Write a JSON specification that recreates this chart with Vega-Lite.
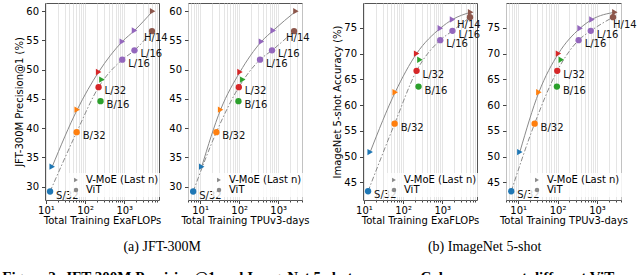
{
  "$schema": "https://vega.github.io/schema/vega-lite/v6.json",
  "padding": {"left": 2, "top": 2, "right": 0, "bottom": 0},
  "datasets": {
    "pts": [
      {"arch": "ViT", "model": "S/32", "exaflops": 12.8, "tpu": 6.65, "jft": 29.15, "imagenet": 43.3},
      {"arch": "ViT", "model": "B/32", "exaflops": 61, "tpu": 26.1, "jft": 39.3, "imagenet": 56.4},
      {"arch": "ViT", "model": "L/32", "exaflops": 221, "tpu": 98, "jft": 47.0, "imagenet": 66.65},
      {"arch": "ViT", "model": "B/16", "exaflops": 248, "tpu": 96, "jft": 44.6, "imagenet": 63.6},
      {"arch": "ViT", "model": "L/16", "exaflops": 888, "tpu": 342, "jft": 51.7, "imagenet": 72.6},
      {"arch": "ViT", "model": "L/16", "exaflops": 1822, "tpu": 695, "jft": 53.3, "imagenet": 74.4},
      {"arch": "ViT", "model": "H/14", "exaflops": 5100, "tpu": 2550, "jft": 56.6, "imagenet": 77.05},
      {"arch": "V-MoE (Last n)", "model": "S/32", "exaflops": 14.5, "tpu": 11, "jft": 33.4, "imagenet": 50.9},
      {"arch": "V-MoE (Last n)", "model": "B/32", "exaflops": 63, "tpu": 33.5, "jft": 43.15, "imagenet": 62.5},
      {"arch": "V-MoE (Last n)", "model": "L/32", "exaflops": 222, "tpu": 105, "jft": 49.6, "imagenet": 70.0},
      {"arch": "V-MoE (Last n)", "model": "B/16", "exaflops": 269, "tpu": 124, "jft": 48.3, "imagenet": 68.8},
      {"arch": "V-MoE (Last n)", "model": "L/16", "exaflops": 890, "tpu": 372, "jft": 54.8, "imagenet": 74.9},
      {"arch": "V-MoE (Last n)", "model": "L/16", "exaflops": 1825, "tpu": 745, "jft": 56.7, "imagenet": 76.6},
      {"arch": "V-MoE (Last n)", "model": "H/14", "exaflops": 5300, "tpu": 2840, "jft": 60.0, "imagenet": 78.0}
    ]
  },
  "title": {
    "text": "Figure 2: JFT-300M Precision@1 and ImageNet 5-shot accuracy. Colors represent different ViT",
    "orient": "bottom", "anchor": "start", "font": "Liberation Serif", "fontSize": 15,
    "fontWeight": "bold", "color": "#000", "offset": 16, "dx": -12
  },
  "spacing": 21,
  "resolve": {"scale": {"x": "independent", "y": "independent", "shape": "independent", "color": "independent"}, "legend": {"shape": "independent"}},
  "hconcat": [
    {
      "spacing": 29,
      "bounds": "flush",
      "title": {"text": "(a) JFT-300M", "orient": "bottom", "anchor": "middle", "font": "Liberation Serif", "fontSize": 14, "fontWeight": "normal", "color": "#000", "offset": 14},
      "resolve": {"scale": {"x": "independent", "y": "independent", "shape": "independent", "color": "independent"}, "legend": {"shape": "independent"}},
      "hconcat": [
        {
          "width": 114, "height": 197,
          "data": {"name": "pts"},
          "encoding": {
            "x": {"field": "exaflops", "type": "quantitative",
              "scale": {"type": "log", "domain": [9.5, 7700], "nice": false},
              "axis": {"title": "Total Training ExaFLOPs",
                "values": [10,20,30,40,50,60,70,80,90,100,200,300,400,500,600,700,800,900,1000,2000,3000,4000,5000,6000,7000],
                "labelExpr": "datum.value == 10 ? '10¹' : datum.value == 100 ? '10²' : datum.value == 1000 ? '10³' : ''",
                "tickSize": {"condition": {"test": "datum.value == 10 || datum.value == 100 || datum.value == 1000", "value": 3.5}, "value": 2}}},
            "y": {"field": "jft", "type": "quantitative",
              "scale": {"domain": [27.7, 61.4], "nice": false, "zero": false},
              "axis": {"title": "JFT-300M Precision@1 (%)", "values": [30,35,40,45,50,55,60]}}
          },
          "layer": [
            {"transform": [{"filter": "datum.arch == 'V-MoE (Last n)' && datum.model != 'B/16'"}],
             "mark": {"type": "line", "color": "#8a8a8a", "strokeWidth": 1, "interpolate": "monotone"}},
            {"transform": [{"filter": "datum.arch == 'ViT' && datum.model != 'B/16'"}],
             "mark": {"type": "line", "color": "#8a8a8a", "strokeWidth": 1, "strokeDash": [5, 2, 1.5, 2], "interpolate": "monotone"}},
            {"mark": {"type": "point", "filled": true, "opacity": 1, "size": 40},
             "encoding": {
               "shape": {"field": "arch", "type": "nominal", "scale": {"domain": ["V-MoE (Last n)", "ViT"], "range": ["triangle-right", "circle"]},
                 "legend": {"title": null, "orient": "none", "legendX": 24, "legendY": 170, "fillColor": "rgba(255,255,255,0.8)", "padding": 2, "labelFontSize": 10, "symbolSize": 20, "symbolFillColor": "#888", "symbolStrokeColor": "#888", "symbolStrokeWidth": 0, "rowPadding": 0, "labelOffset": 5}},
               "color": {"field": "model", "type": "nominal", "scale": {"domain": ["S/32","B/32","L/32","B/16","L/16","H/14"], "range": ["#1f77b4","#ff7f0e","#d62728","#2ca02c","#9467bd","#8c564b"]}, "legend": null}
             }},
            {"transform": [{"filter": "datum.arch == 'ViT' && datum.model != 'H/14'"}],
             "mark": {"type": "text", "align": "left", "baseline": "middle", "dx": 6, "dy": 4, "fontSize": 10, "color": "#111"},
             "encoding": {"text": {"field": "model"}}},
            {"transform": [{"filter": "datum.arch == 'ViT' && datum.model == 'H/14'"}],
             "mark": {"type": "text", "align": "left", "baseline": "middle", "dx": -8, "dy": 7, "fontSize": 10, "color": "#111"},
             "encoding": {"text": {"field": "model"}}}
          ]
        },
        {
          "width": 114, "height": 197,
          "data": {"name": "pts"},
          "encoding": {
            "x": {"field": "tpu", "type": "quantitative",
              "scale": {"type": "log", "domain": [4.9, 4070], "nice": false},
              "axis": {"title": "Total Training TPUv3-days",
                "values": [5,6,7,8,9,10,20,30,40,50,60,70,80,90,100,200,300,400,500,600,700,800,900,1000,2000,3000,4000],
                "labelExpr": "datum.value == 10 ? '10¹' : datum.value == 100 ? '10²' : datum.value == 1000 ? '10³' : ''",
                "tickSize": {"condition": {"test": "datum.value == 10 || datum.value == 100 || datum.value == 1000", "value": 3.5}, "value": 2}}},
            "y": {"field": "jft", "type": "quantitative",
              "scale": {"domain": [27.7, 61.4], "nice": false, "zero": false},
              "axis": {"title": null, "values": [30,35,40,45,50,55,60]}}
          },
          "layer": [
            {"transform": [{"filter": "datum.arch == 'V-MoE (Last n)' && datum.model != 'B/16'"}],
             "mark": {"type": "line", "color": "#8a8a8a", "strokeWidth": 1, "interpolate": "monotone"}},
            {"transform": [{"filter": "datum.arch == 'ViT' && datum.model != 'B/16'"}],
             "mark": {"type": "line", "color": "#8a8a8a", "strokeWidth": 1, "strokeDash": [5, 2, 1.5, 2], "interpolate": "monotone"}},
            {"mark": {"type": "point", "filled": true, "opacity": 1, "size": 40},
             "encoding": {
               "shape": {"field": "arch", "type": "nominal", "scale": {"domain": ["V-MoE (Last n)", "ViT"], "range": ["triangle-right", "circle"]},
                 "legend": {"title": null, "orient": "none", "legendX": 24, "legendY": 170, "fillColor": "rgba(255,255,255,0.8)", "padding": 2, "labelFontSize": 10, "symbolSize": 20, "symbolFillColor": "#888", "symbolStrokeColor": "#888", "symbolStrokeWidth": 0, "rowPadding": 0, "labelOffset": 5}},
               "color": {"field": "model", "type": "nominal", "scale": {"domain": ["S/32","B/32","L/32","B/16","L/16","H/14"], "range": ["#1f77b4","#ff7f0e","#d62728","#2ca02c","#9467bd","#8c564b"]}, "legend": null}
             }},
            {"transform": [{"filter": "datum.arch == 'ViT' && datum.model != 'H/14'"}],
             "mark": {"type": "text", "align": "left", "baseline": "middle", "dx": 6, "dy": 4, "fontSize": 10, "color": "#111"},
             "encoding": {"text": {"field": "model"}}},
            {"transform": [{"filter": "datum.arch == 'ViT' && datum.model == 'H/14'"}],
             "mark": {"type": "text", "align": "left", "baseline": "middle", "dx": -8, "dy": 7, "fontSize": 10, "color": "#111"},
             "encoding": {"text": {"field": "model"}}}
          ]
        }
      ]
    },
    {
      "spacing": 29,
      "bounds": "flush",
      "title": {"text": "(b) ImageNet 5-shot", "orient": "bottom", "anchor": "middle", "font": "Liberation Serif", "fontSize": 14, "fontWeight": "normal", "color": "#000", "offset": 14},
      "resolve": {"scale": {"x": "independent", "y": "independent", "shape": "independent", "color": "independent"}, "legend": {"shape": "independent"}},
      "hconcat": [
        {
          "width": 114, "height": 197,
          "data": {"name": "pts"},
          "encoding": {
            "x": {"field": "exaflops", "type": "quantitative",
              "scale": {"type": "log", "domain": [9.5, 7700], "nice": false},
              "axis": {"title": "Total Training ExaFLOPs",
                "values": [10,20,30,40,50,60,70,80,90,100,200,300,400,500,600,700,800,900,1000,2000,3000,4000,5000,6000,7000],
                "labelExpr": "datum.value == 10 ? '10¹' : datum.value == 100 ? '10²' : datum.value == 1000 ? '10³' : ''",
                "tickSize": {"condition": {"test": "datum.value == 10 || datum.value == 100 || datum.value == 1000", "value": 3.5}, "value": 2}}},
            "y": {"field": "imagenet", "type": "quantitative",
              "scale": {"domain": [41.6, 79.8], "nice": false, "zero": false},
              "axis": {"title": "ImageNet 5-shot Accuracy (%)", "values": [45,50,55,60,65,70,75]}}
          },
          "layer": [
            {"transform": [{"filter": "datum.arch == 'V-MoE (Last n)' && datum.model != 'B/16'"}],
             "mark": {"type": "line", "color": "#8a8a8a", "strokeWidth": 1, "interpolate": "monotone"}},
            {"transform": [{"filter": "datum.arch == 'ViT' && datum.model != 'B/16'"}],
             "mark": {"type": "line", "color": "#8a8a8a", "strokeWidth": 1, "strokeDash": [5, 2, 1.5, 2], "interpolate": "monotone"}},
            {"mark": {"type": "point", "filled": true, "opacity": 1, "size": 40},
             "encoding": {
               "shape": {"field": "arch", "type": "nominal", "scale": {"domain": ["V-MoE (Last n)", "ViT"], "range": ["triangle-right", "circle"]},
                 "legend": {"title": null, "orient": "none", "legendX": 24, "legendY": 170, "fillColor": "rgba(255,255,255,0.8)", "padding": 2, "labelFontSize": 10, "symbolSize": 20, "symbolFillColor": "#888", "symbolStrokeColor": "#888", "symbolStrokeWidth": 0, "rowPadding": 0, "labelOffset": 5}},
               "color": {"field": "model", "type": "nominal", "scale": {"domain": ["S/32","B/32","L/32","B/16","L/16","H/14"], "range": ["#1f77b4","#ff7f0e","#d62728","#2ca02c","#9467bd","#8c564b"]}, "legend": null}
             }},
            {"transform": [{"filter": "datum.arch == 'ViT' && datum.model != 'H/14'"}],
             "mark": {"type": "text", "align": "left", "baseline": "middle", "dx": 6, "dy": 4, "fontSize": 10, "color": "#111"},
             "encoding": {"text": {"field": "model"}}},
            {"transform": [{"filter": "datum.arch == 'ViT' && datum.model == 'H/14'"}],
             "mark": {"type": "text", "align": "left", "baseline": "middle", "dx": -13, "dy": 8, "fontSize": 10, "color": "#111"},
             "encoding": {"text": {"field": "model"}}}
          ]
        },
        {
          "width": 115, "height": 197,
          "data": {"name": "pts"},
          "encoding": {
            "x": {"field": "tpu", "type": "quantitative",
              "scale": {"type": "log", "domain": [4.9, 4070], "nice": false},
              "axis": {"title": "Total Training TPUv3-days",
                "values": [5,6,7,8,9,10,20,30,40,50,60,70,80,90,100,200,300,400,500,600,700,800,900,1000,2000,3000,4000],
                "labelExpr": "datum.value == 10 ? '10¹' : datum.value == 100 ? '10²' : datum.value == 1000 ? '10³' : ''",
                "tickSize": {"condition": {"test": "datum.value == 10 || datum.value == 100 || datum.value == 1000", "value": 3.5}, "value": 2}}},
            "y": {"field": "imagenet", "type": "quantitative",
              "scale": {"domain": [41.6, 79.8], "nice": false, "zero": false},
              "axis": {"title": null, "values": [45,50,55,60,65,70,75]}}
          },
          "layer": [
            {"transform": [{"filter": "datum.arch == 'V-MoE (Last n)' && datum.model != 'B/16'"}],
             "mark": {"type": "line", "color": "#8a8a8a", "strokeWidth": 1, "interpolate": "monotone"}},
            {"transform": [{"filter": "datum.arch == 'ViT' && datum.model != 'B/16'"}],
             "mark": {"type": "line", "color": "#8a8a8a", "strokeWidth": 1, "strokeDash": [5, 2, 1.5, 2], "interpolate": "monotone"}},
            {"mark": {"type": "point", "filled": true, "opacity": 1, "size": 40},
             "encoding": {
               "shape": {"field": "arch", "type": "nominal", "scale": {"domain": ["V-MoE (Last n)", "ViT"], "range": ["triangle-right", "circle"]},
                 "legend": {"title": null, "orient": "none", "legendX": 24, "legendY": 170, "fillColor": "rgba(255,255,255,0.8)", "padding": 2, "labelFontSize": 10, "symbolSize": 20, "symbolFillColor": "#888", "symbolStrokeColor": "#888", "symbolStrokeWidth": 0, "rowPadding": 0, "labelOffset": 5}},
               "color": {"field": "model", "type": "nominal", "scale": {"domain": ["S/32","B/32","L/32","B/16","L/16","H/14"], "range": ["#1f77b4","#ff7f0e","#d62728","#2ca02c","#9467bd","#8c564b"]}, "legend": null}
             }},
            {"transform": [{"filter": "datum.arch == 'ViT' && datum.model != 'H/14'"}],
             "mark": {"type": "text", "align": "left", "baseline": "middle", "dx": 6, "dy": 4, "fontSize": 10, "color": "#111"},
             "encoding": {"text": {"field": "model"}}},
            {"transform": [{"filter": "datum.arch == 'ViT' && datum.model == 'H/14'"}],
             "mark": {"type": "text", "align": "left", "baseline": "middle", "dx": 0, "dy": 8, "fontSize": 10, "color": "#111"},
             "encoding": {"text": {"field": "model"}}}
          ]
        }
      ]
    }
  ],
  "config": {
    "font": "DejaVu Sans",
    "view": {"stroke": "#555", "strokeWidth": 1},
    "axis": {"labelFont": "DejaVu Sans", "titleFont": "DejaVu Sans", "labelFontSize": 10, "titleFontSize": 10, "titleFontWeight": "normal", "labelColor": "#000", "titleColor": "#000", "tickColor": "#444", "domain": false, "grid": false, "labelPadding": 2},
    "axisX": {"grid": true, "gridColor": "#dedede", "gridWidth": 0.8, "labelFlush": false, "labelOverlap": false, "titlePadding": 0},
    "axisY": {"tickSize": 3.5, "labelPadding": 3, "titlePadding": 1},
    "legend": {"labelFont": "DejaVu Sans", "labelColor": "#000"}
  }
}
